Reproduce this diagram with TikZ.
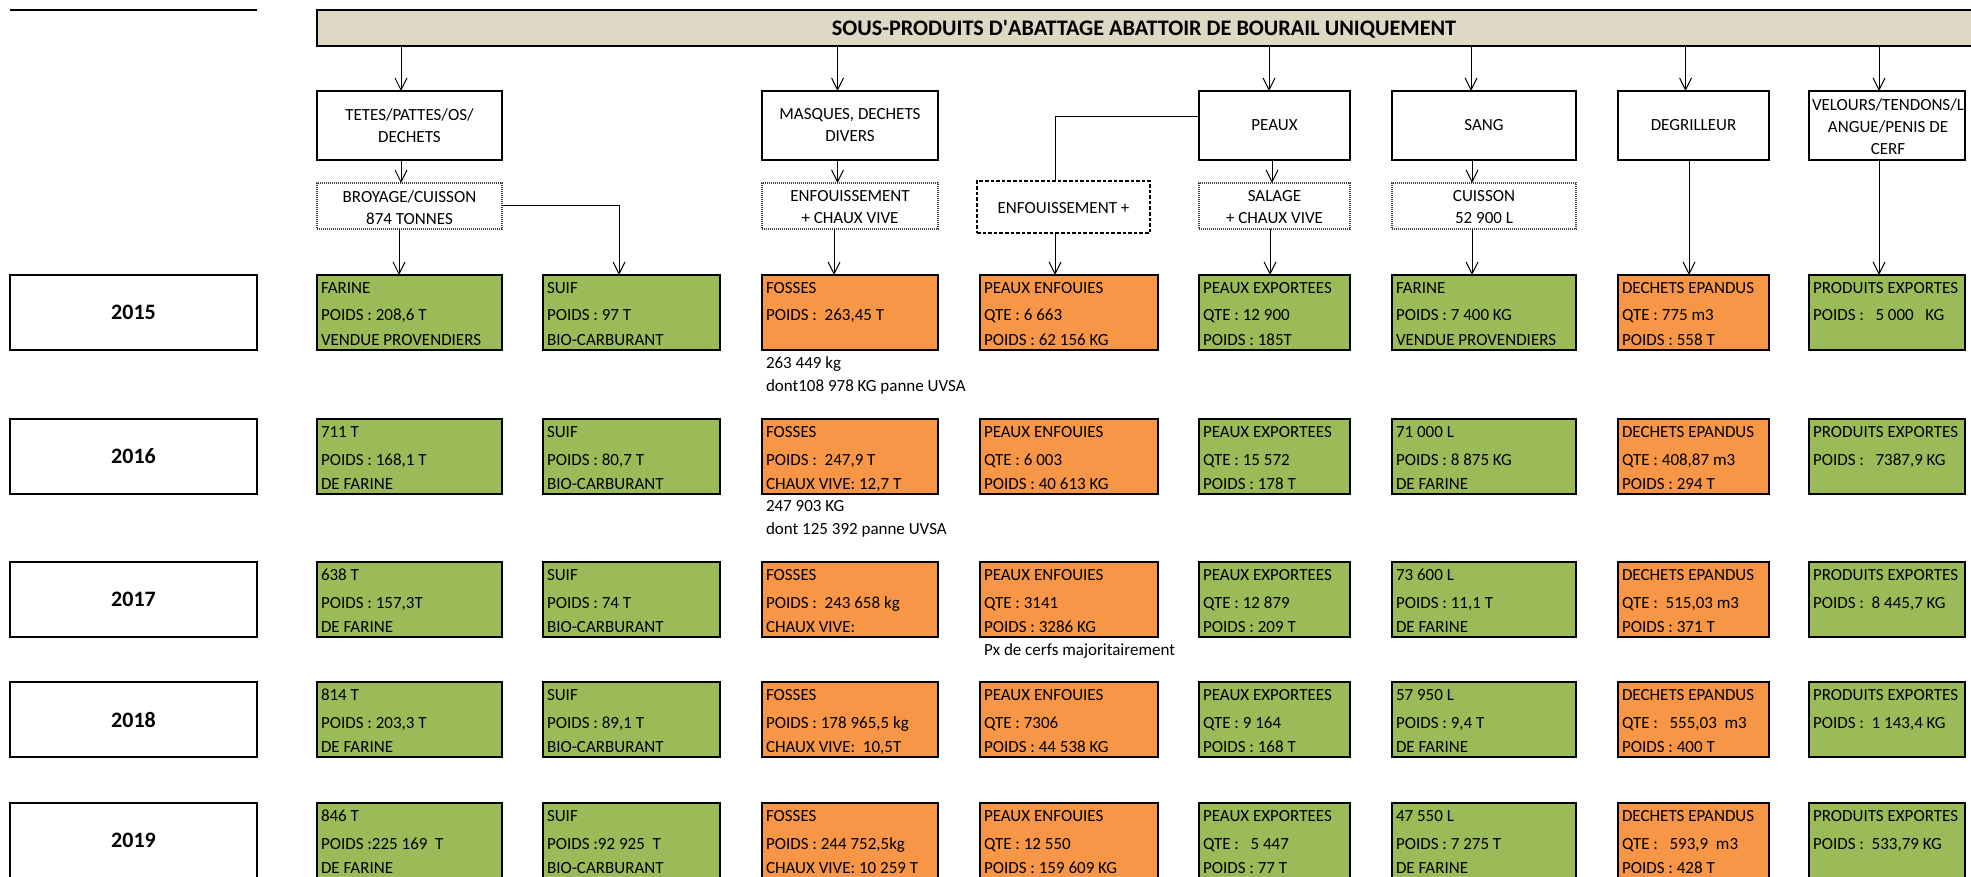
\documentclass[tikz,border=0pt]{standalone}
\usepackage{fontspec}
\setmainfont{Carlito}
\usetikzlibrary{arrows.meta,fit}
\definecolor{ttlbg}{HTML}{DDD9C4}
\definecolor{vert}{HTML}{9BBB59}
\definecolor{orng}{HTML}{F79646}
\newcommand\dbox[8]{%
  \node[databox, fill=#5, fit={(#2,#4) (#3,#4+75)}] (#1) {};
  \if\relax\detokenize{#6}\relax\else\node[dtext] (#1-a) at ([shift={(4,18.5)}]#1.north west) {#6};\fi
  \if\relax\detokenize{#7}\relax\else\node[dtext] (#1-b) at ([shift={(4,46)}]#1.north west) {#7};\fi
  \if\relax\detokenize{#8}\relax\else\node[dtext] (#1-c) at ([shift={(4,70.5)}]#1.north west) {#8};\fi
}
\newcommand\ybox[3]{%
  \node[databox, fill=white, fit={(10,#2) (257,#2+75)}] (#1) {};
  \node[ctext, font=\bfseries\fontsize{11}{13}\selectfont] (#1-t) at (#1.center) {#3};
}
\newcommand\vconn[3]{%
  \coordinate (#2-in) at ([shift={(#3,0)}]#2.north);
  \draw[arr] (#1.south -| #2-in) -- (#2-in);
}
\begin{document}
\begin{tikzpicture}[x=0.5pt,y=-0.5pt, font=\fontsize{8.5}{11}\selectfont,
  box/.style={draw=black, line width=0.7pt, inner sep=0pt, outer sep=0pt, fill=white},
  procbox/.style={draw=black!75, line width=0.6pt, dash pattern=on 0.6pt off 0.4pt, inner sep=0pt, outer sep=0pt, fill=white},
  dashbox/.style={draw=black, line width=0.55pt, dash pattern=on 1.8pt off 1pt, inner sep=0pt, outer sep=0pt, fill=white},
  databox/.style={draw=black, line width=0.9pt, inner sep=0pt, outer sep=0pt},
  dtext/.style={anchor=base west, inner sep=0pt, outer sep=0pt},
  ctext/.style={align=center, inner sep=0pt, outer sep=0pt},
  arr/.style={-{Straight Barb[length=6pt,width=6pt]}, line width=0.5pt},
  link/.style={line width=0.5pt},
]
\useasboundingbox (0,0) rectangle (1971,877);
\clip (0,0) rectangle (1971,877);
\fill[white] (0,0) rectangle (1971,877);

% top-left rule
\draw[line width=0.6pt] (10,10) -- (257,10);

% title
\node[box, fill=ttlbg, line width=1pt, fit={(317,10) (1990,46)}] (title) {};
\node[font=\bfseries\fontsize{11.1}{13}\selectfont, inner sep=0pt] (title-t) at (1144,29)
  {SOUS-PRODUITS D\textquotesingle ABATTAGE ABATTOIR DE BOURAIL UNIQUEMENT};

% first level
\node[box, fit={(317,91) (502,160)}] (tetes) {};
\node[ctext] (tetes-t) at (tetes.center) {TETES/PATTES/OS/\\DECHETS};
\node[box, fit={(762,91) (938,160)}] (masques) {};
\node[ctext] (masques-t) at (masques.center) {MASQUES, DECHETS\\DIVERS};
\node[box, fit={(1199,91) (1350,160)}] (peaux) {};
\node[ctext] (peaux-t) at (peaux.center) {PEAUX};
\node[box, fit={(1392,91) (1576,160)}] (sang) {};
\node[ctext] (sang-t) at (sang.center) {SANG};
\node[box, fit={(1618,91) (1769,160)}] (degr) {};
\node[ctext] (degr-t) at (degr.center) {DEGRILLEUR};
\node[box, fit={(1809,91) (1965,160)}] (velours) {};
\node[ctext] (velours-t) at ([shift={(1,1.5)}]velours.center) {VELOURS/TENDONS/L\\ANGUE/PENIS DE\\CERF};

% processes
\node[procbox, fit={(317,183) (502,229)}] (broyage) {};
\node[ctext] (broyage-t) at ([shift={(0,1.5)}]broyage.center) {BROYAGE/CUISSON\\874 TONNES};
\node[procbox, fit={(762,183) (938,229)}] (enfa) {};
\node[ctext] (enfa-t) at ([shift={(0,1.5)}]enfa.center) {ENFOUISSEMENT\\+ CHAUX VIVE};
\node[dashbox, fit={(977,181) (1150,233)}] (enfb) {};
\node[ctext] (enfb-t) at ([shift={(0,1)}]enfb.center) {ENFOUISSEMENT +};
\node[procbox, fit={(1199,183) (1350,229)}] (salage) {};
\node[ctext] (salage-t) at ([shift={(0,1.5)}]salage.center) {SALAGE\\+ CHAUX VIVE};
\node[procbox, fit={(1392,183) (1576,229)}] (cuisson) {};
\node[ctext] (cuisson-t) at ([shift={(0,1.5)}]cuisson.center) {CUISSON\\52 900 L};

% years
\ybox{yA}{275}{2015}
\ybox{yB}{419}{2016}
\ybox{yC}{562}{2017}
\ybox{yD}{682}{2018}
\ybox{yE}{803}{2019}

% 2015
\dbox{c1r1}{317}{502}{275}{vert}{FARINE}{POIDS : 208,6 T}{VENDUE PROVENDIERS}
\dbox{c2r1}{543}{720}{275}{vert}{SUIF}{POIDS : 97 T}{BIO-CARBURANT}
\dbox{c3r1}{762}{938}{275}{orng}{FOSSES}{POIDS :~~263,45 T}{}
\dbox{c4r1}{980}{1158}{275}{orng}{PEAUX ENFOUIES}{QTE : 6 663}{POIDS : 62 156 KG}
\dbox{c5r1}{1199}{1350}{275}{vert}{PEAUX EXPORTEES}{QTE : 12 900}{POIDS : 185T}
\dbox{c6r1}{1392}{1576}{275}{vert}{FARINE}{POIDS : 7 400 KG}{VENDUE PROVENDIERS}
\dbox{c7r1}{1618}{1769}{275}{orng}{DECHETS EPANDUS}{QTE : 775 m3}{POIDS : 558 T}
\dbox{c8r1}{1809}{1965}{275}{vert}{PRODUITS EXPORTES}{POIDS :~~~5 000~~~KG}{}

% 2016
\dbox{c1r2}{317}{502}{419}{vert}{711 T}{POIDS : 168,1 T}{DE FARINE}
\dbox{c2r2}{543}{720}{419}{vert}{SUIF}{POIDS : 80,7 T}{BIO-CARBURANT}
\dbox{c3r2}{762}{938}{419}{orng}{FOSSES}{POIDS :~~247,9 T}{CHAUX VIVE: 12,7 T}
\dbox{c4r2}{980}{1158}{419}{orng}{PEAUX ENFOUIES}{QTE : 6 003}{POIDS : 40 613 KG}
\dbox{c5r2}{1199}{1350}{419}{vert}{PEAUX EXPORTEES}{QTE : 15 572}{POIDS : 178 T}
\dbox{c6r2}{1392}{1576}{419}{vert}{71 000 L}{POIDS : 8 875 KG}{DE FARINE}
\dbox{c7r2}{1618}{1769}{419}{orng}{DECHETS EPANDUS}{QTE : 408,87 m3}{POIDS : 294 T}
\dbox{c8r2}{1809}{1965}{419}{vert}{PRODUITS EXPORTES}{POIDS :~~~7387,9 KG}{}

% 2017
\dbox{c1r3}{317}{502}{562}{vert}{638 T}{POIDS : 157,3T}{DE FARINE}
\dbox{c2r3}{543}{720}{562}{vert}{SUIF}{POIDS : 74 T}{BIO-CARBURANT}
\dbox{c3r3}{762}{938}{562}{orng}{FOSSES}{POIDS :~~243 658 kg}{CHAUX VIVE:}
\dbox{c4r3}{980}{1158}{562}{orng}{PEAUX ENFOUIES}{QTE : 3141}{POIDS : 3286 KG}
\dbox{c5r3}{1199}{1350}{562}{vert}{PEAUX EXPORTEES}{QTE : 12 879}{POIDS : 209 T}
\dbox{c6r3}{1392}{1576}{562}{vert}{73 600 L}{POIDS : 11,1 T}{DE FARINE}
\dbox{c7r3}{1618}{1769}{562}{orng}{DECHETS EPANDUS}{QTE :~~515,03 m3}{POIDS : 371 T}
\dbox{c8r3}{1809}{1965}{562}{vert}{PRODUITS EXPORTES}{POIDS :~~8 445,7 KG}{}

% 2018
\dbox{c1r4}{317}{502}{682}{vert}{814 T}{POIDS : 203,3 T}{DE FARINE}
\dbox{c2r4}{543}{720}{682}{vert}{SUIF}{POIDS : 89,1 T}{BIO-CARBURANT}
\dbox{c3r4}{762}{938}{682}{orng}{FOSSES}{POIDS : 178 965,5 kg}{CHAUX VIVE:~~10,5T}
\dbox{c4r4}{980}{1158}{682}{orng}{PEAUX ENFOUIES}{QTE : 7306}{POIDS : 44 538 KG}
\dbox{c5r4}{1199}{1350}{682}{vert}{PEAUX EXPORTEES}{QTE : 9 164}{POIDS : 168 T}
\dbox{c6r4}{1392}{1576}{682}{vert}{57 950 L}{POIDS : 9,4 T}{DE FARINE}
\dbox{c7r4}{1618}{1769}{682}{orng}{DECHETS EPANDUS}{QTE :~~~555,03~~m3}{POIDS : 400 T}
\dbox{c8r4}{1809}{1965}{682}{vert}{PRODUITS EXPORTES}{POIDS :~~1 143,4 KG}{}

% 2019
\dbox{c1r5}{317}{502}{803}{vert}{846 T}{POIDS :225 169~~T}{DE FARINE}
\dbox{c2r5}{543}{720}{803}{vert}{SUIF}{POIDS :92 925~~T}{BIO-CARBURANT}
\dbox{c3r5}{762}{938}{803}{orng}{FOSSES}{POIDS : 244 752,5kg}{CHAUX VIVE: 10 259 T}
\dbox{c4r5}{980}{1158}{803}{orng}{PEAUX ENFOUIES}{QTE : 12 550}{POIDS : 159 609 KG}
\dbox{c5r5}{1199}{1350}{803}{vert}{PEAUX EXPORTEES}{QTE :~~~5 447}{POIDS : 77 T}
\dbox{c6r5}{1392}{1576}{803}{vert}{47 550 L}{POIDS : 7 275 T}{DE FARINE}
\dbox{c7r5}{1618}{1769}{803}{orng}{DECHETS EPANDUS}{QTE :~~~593,9~~m3}{POIDS : 428 T}
\dbox{c8r5}{1809}{1965}{803}{vert}{PRODUITS EXPORTES}{POIDS :~~533,79 KG}{}

% notes
\node[dtext] (noteA1) at (766,369) {263 449 kg};
\node[dtext] (noteA2) at (766,391.5) {dont108 978 KG panne UVSA};
\node[dtext] (noteB1) at (766,511.5) {247 903 KG};
\node[dtext] (noteB2) at (766,534) {dont 125 392 panne UVSA};
\node[dtext] (noteC) at (984,655) {Px de cerfs majoritairement};

% connectors
\vconn{title}{tetes}{-8.5}
\vconn{tetes}{broyage}{-8.5}
\vconn{broyage}{c1r1}{-10.5}
\coordinate (c2r1-in) at ([shift={(-12.5,0)}]c2r1.north);
\draw[arr] (broyage.east) -| (c2r1-in);
\vconn{title}{masques}{-12.5}
\vconn{masques}{enfa}{-12.5}
\vconn{enfa}{c3r1}{-16}
\vconn{title}{peaux}{-5.5}
\vconn{peaux}{salage}{-2.5}
\vconn{salage}{c5r1}{-4.5}
\coordinate (enfb-in) at ([shift={(-8.5,0)}]enfb.north);
\draw[link] ([shift={(0,-8.5)}]peaux.west) -| (enfb-in);
\vconn{enfb}{c4r1}{-14}
\vconn{title}{sang}{-13}
\vconn{sang}{cuisson}{-12}
\vconn{cuisson}{c6r1}{-12}
\vconn{title}{degr}{-8}
\vconn{degr}{c7r1}{-4.5}
\vconn{title}{velours}{-8}
\vconn{velours}{c8r1}{-8}
\end{tikzpicture}
\end{document}
